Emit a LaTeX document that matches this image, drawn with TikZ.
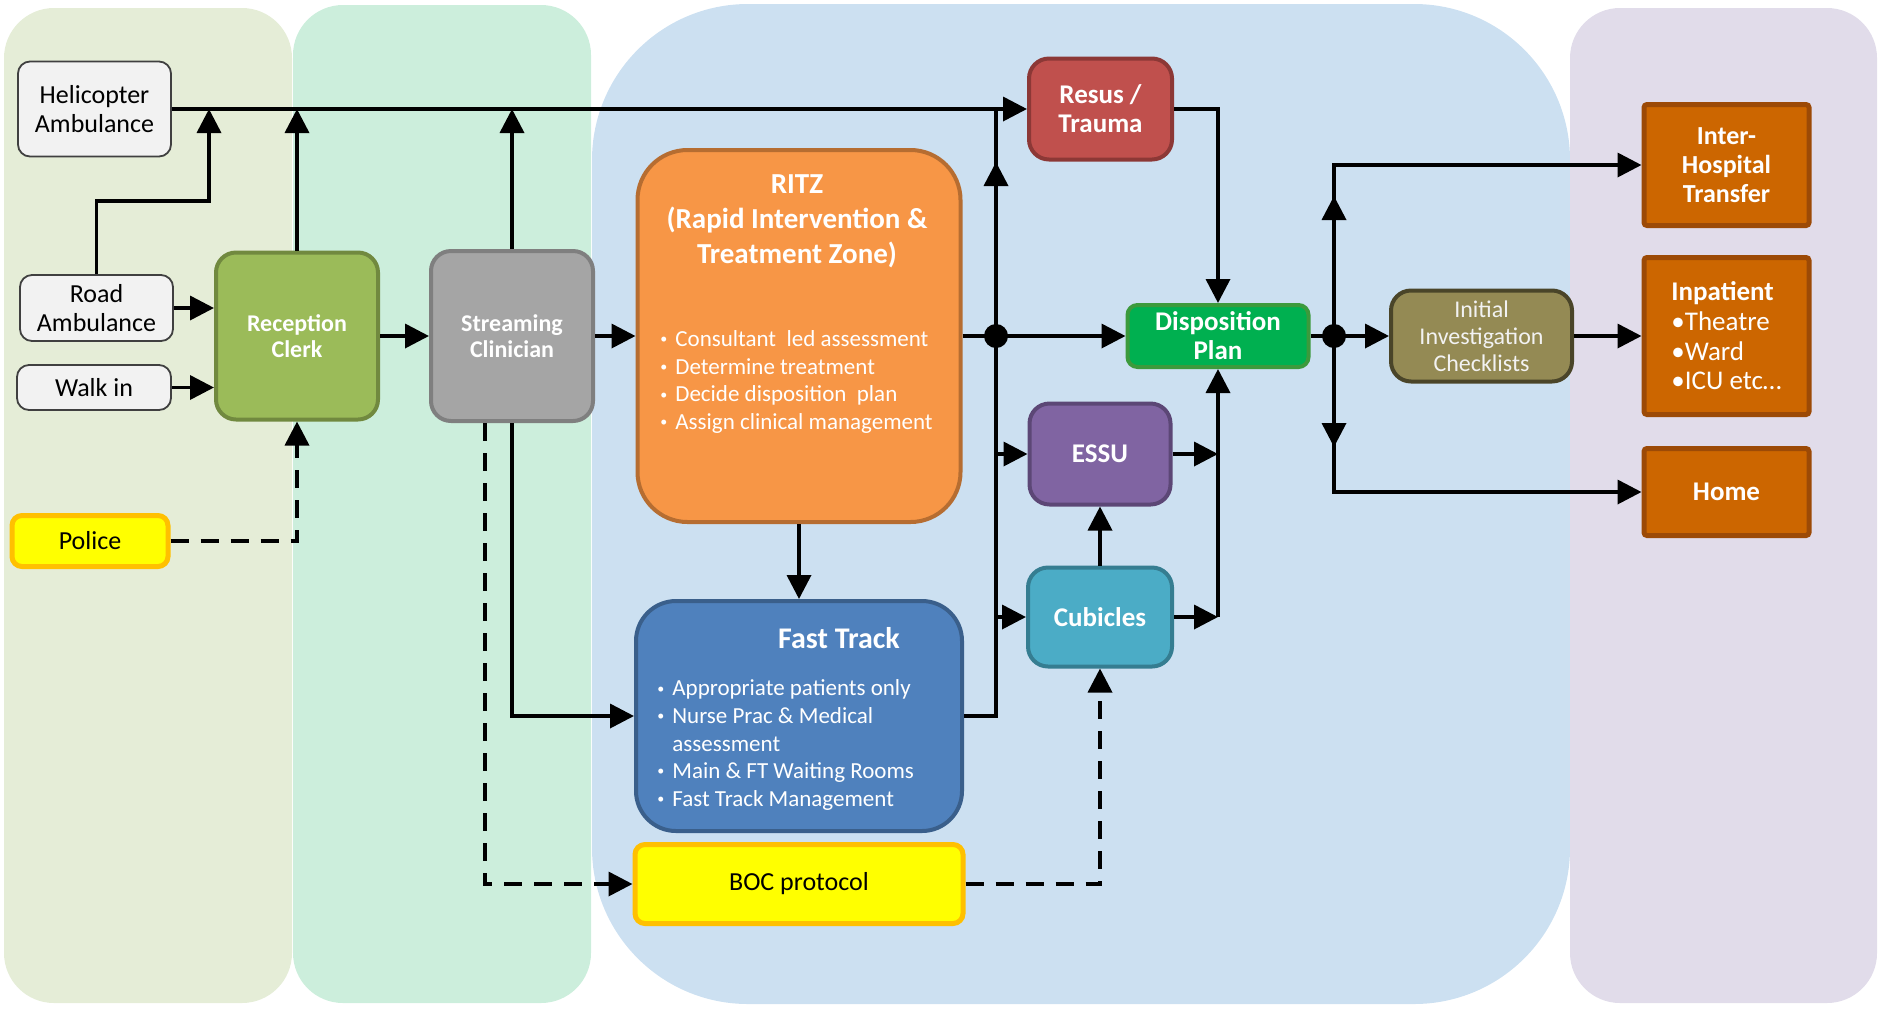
\documentclass[tikz,border=0pt]{standalone}
\usepackage{fontspec}
\setmainfont{Carlito}
\usetikzlibrary{arrows.meta,calc,positioning}
\definecolor{laneA}{HTML}{E5EDD7}
\definecolor{laneB}{HTML}{CCEEDC}
\definecolor{laneC}{HTML}{CCE0F1}
\definecolor{laneD}{HTML}{E1DCEA}
\definecolor{entryfill}{HTML}{F2F2F2}
\definecolor{entryline}{HTML}{404040}
\definecolor{alertfill}{HTML}{FFFF00}
\definecolor{alertline}{HTML}{FFC000}
\definecolor{recepfill}{HTML}{9BBB59}
\definecolor{recepline}{HTML}{71893F}
\definecolor{streamfill}{HTML}{A5A5A5}
\definecolor{streamline}{HTML}{7F7F7F}
\definecolor{ritzfill}{HTML}{F79646}
\definecolor{ritzline}{HTML}{B66D31}
\definecolor{fastfill}{HTML}{4F81BD}
\definecolor{fastline}{HTML}{3A5F8B}
\definecolor{resusfill}{HTML}{C0504D}
\definecolor{resusline}{HTML}{8C3836}
\definecolor{dispfill}{HTML}{00B050}
\definecolor{displine}{HTML}{3C9A3C}
\definecolor{essufill}{HTML}{8064A2}
\definecolor{essuline}{HTML}{5C4776}
\definecolor{cubfill}{HTML}{4BACC6}
\definecolor{cubline}{HTML}{357D91}
\definecolor{initfill}{HTML}{948A54}
\definecolor{initline}{HTML}{4A4529}
\definecolor{outfill}{HTML}{CC6600}
\definecolor{outline}{HTML}{9C4A06}
\newcommand{\bul}{\raisebox{.25ex}{\scriptsize\textbullet}\hspace{4pt}}

\begin{document}
\begin{tikzpicture}[x=0.5pt,y=-0.5pt,
    >={Triangle[length=12pt,width=12pt]},
    lane/.style={rounded corners=25pt},
    inbox/.style={draw=entryline,fill=entryfill,rounded corners=6pt,line width=0.9pt,
      align=center,inner sep=0pt,font=\fontsize{13}{14.5}\selectfont},
    alertbox/.style={draw=alertline,fill=alertfill,rounded corners=5pt,line width=2.5pt,
      align=center,inner sep=0pt,font=\fontsize{13}{15}\selectfont},
    zone/.style={rounded corners=10pt,line width=2pt,align=center,inner sep=0pt,
      text=white,font=\bfseries\fontsize{13.5}{14.5}\selectfont},
    outbox/.style={draw=outline,fill=outfill,rounded corners=1.5pt,line width=2.5pt,
      inner sep=0pt,text=white,minimum width=82.5pt,font=\fontsize{13.5}{14.8}\selectfont},
    bullets/.style={align=left,inner sep=0pt,text=white,font=\fontsize{11.5}{13.8}\selectfont},
    flow/.style={line width=1.8pt,->},
    flowline/.style={line width=1.8pt},
    dashflow/.style={flow,dash pattern=on 9pt off 6pt}]
  % swim lanes
  \useasboundingbox (0,0) rectangle (1883,1008);
  \fill[lane,laneA] (4,8) rectangle (292,1003);
  \fill[lane,laneB] (293,5) rectangle (591,1003);
  \fill[lane,laneC,rounded corners=78pt] (592,4) rectangle (1570,1004);
  \fill[lane,laneD] (1570,8) rectangle (1877,1003);

  % arrivals
  \node[inbox,minimum width=76.5pt,minimum height=47.5pt] (heli) at (94.5,109) {Helicopter\\Ambulance};
  \node[inbox,minimum width=76.5pt,minimum height=33pt] (road) at (96.5,308) {Road\\Ambulance};
  \node[inbox,minimum width=77pt,minimum height=22.5pt] (walk) at (94,387.5) {Walk in};
  \node[alertbox,minimum width=78pt,minimum height=25.5pt] (police) at (90,541) {Police};

  % front door
  \node[zone,fill=recepfill,draw=recepline,minimum width=81pt,minimum height=83.5pt,
    font=\bfseries\fontsize{12}{13}\selectfont] (recep) at (297,336) {Reception\\Clerk};
  \node[zone,fill=streamfill,draw=streamline,minimum width=81pt,minimum height=85pt,
    font=\bfseries\fontsize{12}{13}\selectfont] (stream) at (512,336) {Streaming\\Clinician};

  % ED areas
  \node[zone,fill=ritzfill,draw=ritzline,rounded corners=25pt,minimum width=161.5pt,
    minimum height=186pt] (ritz) at (799,336) {};
  \node[zone,font=\bfseries\fontsize{14.5}{17.5}\selectfont] (ritzhead) at (797,221)
    {RITZ\\(Rapid Intervention \&\\Treatment Zone)};
  \node[bullets,anchor=west] (ritzlist) at (660,382)
    {\bul Consultant\ \ led assessment\\\bul Determine treatment\\
     \bul Decide disposition\ \ plan\\\bul Assign clinical management};
  \node[zone,fill=fastfill,draw=fastline,rounded corners=20pt,minimum width=163pt,
    minimum height=115pt] (fast) at (799,716) {};
  \node[zone,font=\bfseries\fontsize{15}{17}\selectfont] (fasthead) at (839,638) {Fast Track};
  \node[bullets,anchor=west] (fastlist) at (657,745)
    {\bul Appropriate patients only\\\bul Nurse Prac \& Medical\\\phantom{\bul}assessment\\
     \bul Main \& FT Waiting Rooms\\\bul Fast Track Management};
  \node[alertbox,minimum width=164pt,minimum height=39.5pt] (boc) at (799,884) {BOC protocol};
  \node[zone,fill=resusfill,draw=resusline,minimum width=71.5pt,minimum height=50.5pt] (resus)
    at (1100.5,109) {Resus /\\Trauma};
  \node[zone,fill=dispfill,draw=displine,rounded corners=5pt,minimum width=90.5pt,
    minimum height=31pt] (disp) at (1218,336) {Disposition\\Plan};
  \node[zone,fill=essufill,draw=essuline,minimum width=70.5pt,minimum height=50.5pt] (essu)
    at (1100,454) {ESSU};
  \node[zone,fill=cubfill,draw=cubline,minimum width=72pt,minimum height=49.5pt] (cub)
    at (1100,617) {Cubicles};
  \node[zone,fill=initfill,draw=initline,minimum width=90.5pt,minimum height=45.5pt,
    font=\fontsize{12}{13.5}\selectfont,text=white!95!black] (init) at (1481.5,336)
    {Initial\\Investigation\\Checklists};

  % outcomes
  \node[outbox,minimum height=60.5pt,align=center,font=\bfseries\fontsize{13}{14.5}\selectfont]
    (inter) at (1726.5,165) {Inter-\\Hospital\\Transfer};
  \node[outbox,minimum height=78.5pt,align=left] (inpat) at (1726.5,336)
    {\textbf{Inpatient}\\•Theatre\\•Ward\\•ICU etc…};
  \node[outbox,minimum height=43.5pt,font=\bfseries\fontsize{13.5}{15}\selectfont] (home)
    at (1726.5,492) {Home};

  % junctions
  \coordinate (roadj) at (209,109);
  \coordinate (busdot) at (996,336);
  \coordinate (busup) at (996,162);
  \coordinate (outdot) at (1334,336);
  \coordinate (outup) at (1334,196);
  \coordinate (outdown) at (1334,447);

  % arrivals to front door
  \draw[flow] (heli.east) -- (resus.west);
  \draw[flow] (road.north) -- ++(0,-73) -| (roadj);
  \draw[flow] (recep.north) -- (recep.north |- heli.east);
  \draw[flow] (stream.north) -- (stream.north |- heli.east);
  \draw[flow] (road.east) -- (road.east -| recep.west);
  \draw[flow] (walk.east) -- (walk.east -| recep.west);
  \draw[dashflow] (police.east) -| (recep.south);
  \draw[flow] (recep) -- (stream);
  \draw[flow] (stream) -- (ritz);
  \draw[flow] (stream.south) |- (fast.west);
  \draw[dashflow] ([xshift=-13.5pt]stream.south) |- (boc.west);

  % main bus
  \draw[flowline] (fast.east) -| (busdot |- heli.east);
  \draw[flow] (busdot) -- (busup);
  \draw[flow] (ritz) -- (disp);
  \draw[flow] (essu.west -| busdot) -- (essu.west);
  \draw[flow] (cub.west -| busdot) -- (cub.west);
  \fill (busdot) circle (6pt);
  \draw[flow] (ritz) -- (fast);
  \draw[dashflow] (boc.east) -| (cub.south);
  \draw[flow] (cub) -- (essu);

  % into disposition
  \draw[flow] (resus.east) -| (disp.north);
  \draw[flow] (essu.east) -- (essu.east -| disp.south);
  \draw[flow] (cub.east) -- (cub.east -| disp.south);
  \draw[flow] (cub.east -| disp.south) -- (disp.south);

  % out of the department
  \draw[flow] (disp) -- (init);
  \draw[flow] (outdot) |- (inter.west);
  \draw[flow] (outdot) |- (home.west);
  \draw[flow] (outdot) -- (outup);
  \draw[flow] (outdot) -- (outdown);
  \fill (outdot) circle (6pt);
  \draw[flow] (init) -- (inpat);
\end{tikzpicture}
\end{document}
